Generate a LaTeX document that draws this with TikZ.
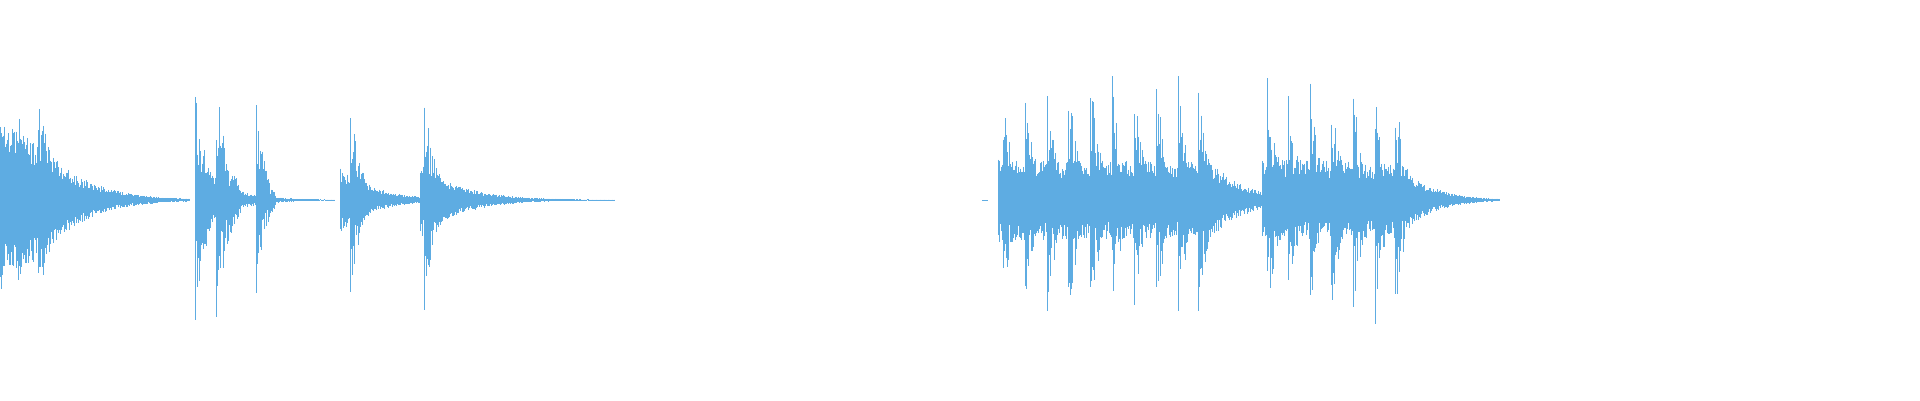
\documentclass[tikz,border=0pt]{standalone}
\definecolor{wave}{RGB}{94,172,226}
\tikzset{wv/.style={draw=wave,line width=0.9pt}}
\newcommand{\wvhit}[4]{% h, A, tau, len
  \foreach \i in {0,0.8,...,#4}{
    \pgfmathsetmacro{\up}{#2*exp(-\i/#3)*(0.35+0.65*rnd)}
    \pgfmathsetmacro{\dn}{#2*exp(-\i/#3)*(0.35+0.65*rnd)}
    \draw[wv] (#1+\i,200-\up) -- (#1+\i,200+\dn);
  }}
\newcommand{\wvtail}[4]{% x0, A, tau, len
  \foreach \i in {0,0.8,...,#4}{
    \pgfmathsetmacro{\a}{#2*exp(-\i/#3)*(0.6+0.5*rnd)}
    \pgfmathsetmacro{\b}{#2*exp(-\i/#3)*(0.6+0.5*rnd)}
    \draw[wv] (#1+\i,200-\a) -- (#1+\i,200+\b);
  }}
\newcommand{\wvbody}[4]{% x0, x1, A start, A end (linear)
  \foreach \i in {#1,#1.8,...,#2}{
    \pgfmathsetmacro{\a}{(#3+(#4-#3)*(\i-#1)/(#2-#1))*(0.6+0.5*rnd)}
    \pgfmathsetmacro{\b}{(#3+(#4-#3)*(\i-#1)/(#2-#1))*(0.6+0.5*rnd)}
    \draw[wv] (\i,200-\a) -- (\i,200+\b);
  }}
\begin{document}
\begin{tikzpicture}[x=1pt,y=-1pt]
\pgfmathsetseed{7}
\useasboundingbox (0,0) rectangle (1920,400);
% left segment
\wvbody{0}{50}{70}{50}
\wvtail{50}{45}{40}{140}
\wvtail{195}{38}{30}{140}
\wvtail{340}{30}{35}{80}
\wvtail{420}{35}{40}{195}
\wvhit{0}{100}{15}{30}
\wvhit{18}{95}{14}{25}
\wvhit{38}{110}{15}{35}
\wvhit{195}{120}{12}{25}
\wvhit{216}{125}{12}{25}
\wvhit{256}{110}{8}{20}
\wvhit{350}{110}{10}{28}
\wvhit{424}{115}{11}{30}
\draw[wv,line width=0.4pt] (982,200) -- (988,200);
% right segment
\wvbody{998}{1212}{38}{34}
\wvtail{1212}{34}{35}{50}
\wvbody{1262}{1400}{38}{34}
\wvtail{1400}{34}{30}{100}
\foreach \h/\A in {1003/115,1025/110,1047/125,1068/135,1090/140,1112/135,1134/120,1156/125,1178/125,1198/135,1267/135,1288/125,1310/120,1331/125,1353/120,1375/125,1395/120}{
  \wvhit{\h}{\A}{10}{20}
}
\end{tikzpicture}
\end{document}
